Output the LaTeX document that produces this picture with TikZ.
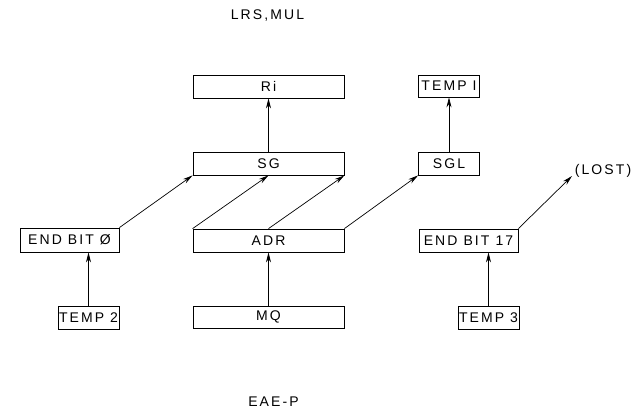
\documentclass[tikz,border=0pt]{standalone}
\usepackage{fontspec}
\setmainfont{Liberation Sans}
\usetikzlibrary{arrows.meta}
\newfontfamily\lblfont[LetterSpace=15]{Liberation Sans}
\begin{document}
\begin{tikzpicture}[x=1pt,y=-1pt,
  box/.style={draw, line width=0.8pt, rectangle, inner sep=0pt, font=\lblfont\fontsize{14}{14}\selectfont},
  lbl/.style={inner sep=0pt, font=\lblfont\fontsize{14}{14}\selectfont},
  arr/.style={line width=0.7pt, -{Stealth[length=10pt,width=5pt]}}]
\useasboundingbox (0,0) rectangle (637,418);
\node[lbl] (title) at (267.5,16) {LRS,MUL};
\node[lbl] (foot) at (273.5,402) {EAE-P};
\node[box, minimum width=151pt, minimum height=23pt] (Ri) at (268.5,86.5) {Ri};
\node[box, minimum width=61pt, minimum height=22pt] (T1) at (449,86) {TEMP I};
\node[box, minimum width=151pt, minimum height=23pt] (SG) at (268.5,163.5) {SG};
\node[box, minimum width=61pt, minimum height=23pt] (SGL) at (449,163.5) {SGL};
\node[box, minimum width=151pt, minimum height=23pt] (ADR) at (268.5,240.5) {ADR};
\node[box, minimum width=151pt, minimum height=22pt] (MQ) at (268.5,317) {MQ};
\node[box, minimum width=99pt, minimum height=24pt] (EB0) at (69.5,240) {END BIT Ø};
\node[box, minimum width=61pt, minimum height=23pt] (T2) at (88.5,317.5) {TEMP 2};
\node[box, minimum width=99pt, minimum height=23pt] (EB17) at (468.5,240.5) {END BIT 17};
\node[box, minimum width=61pt, minimum height=23pt] (T3) at (488.5,317.5) {TEMP 3};
\node[lbl] (lost) at (603,171) {(LOST)};
\coordinate (lostend) at (572,176);
\draw[arr] (SG.north) -- (Ri.south);
\draw[arr] (SGL.north) -- (T1.south);
\draw[arr] (EB0.north east) -- (SG.south west);
\draw[arr] (ADR.north west) -- (SG.south);
\draw[arr] (ADR.north) -- (SG.south east);
\draw[arr] (ADR.north east) -- (SGL.south west);
\draw[arr] (MQ.north) -- (ADR.south);
\draw[arr] (T2.north) -- (T2.north |- EB0.south);
\draw[arr] (T3.north) -- (T3.north |- EB17.south);
\draw[arr] (EB17.north east) -- (lostend);
\end{tikzpicture}
\end{document}
